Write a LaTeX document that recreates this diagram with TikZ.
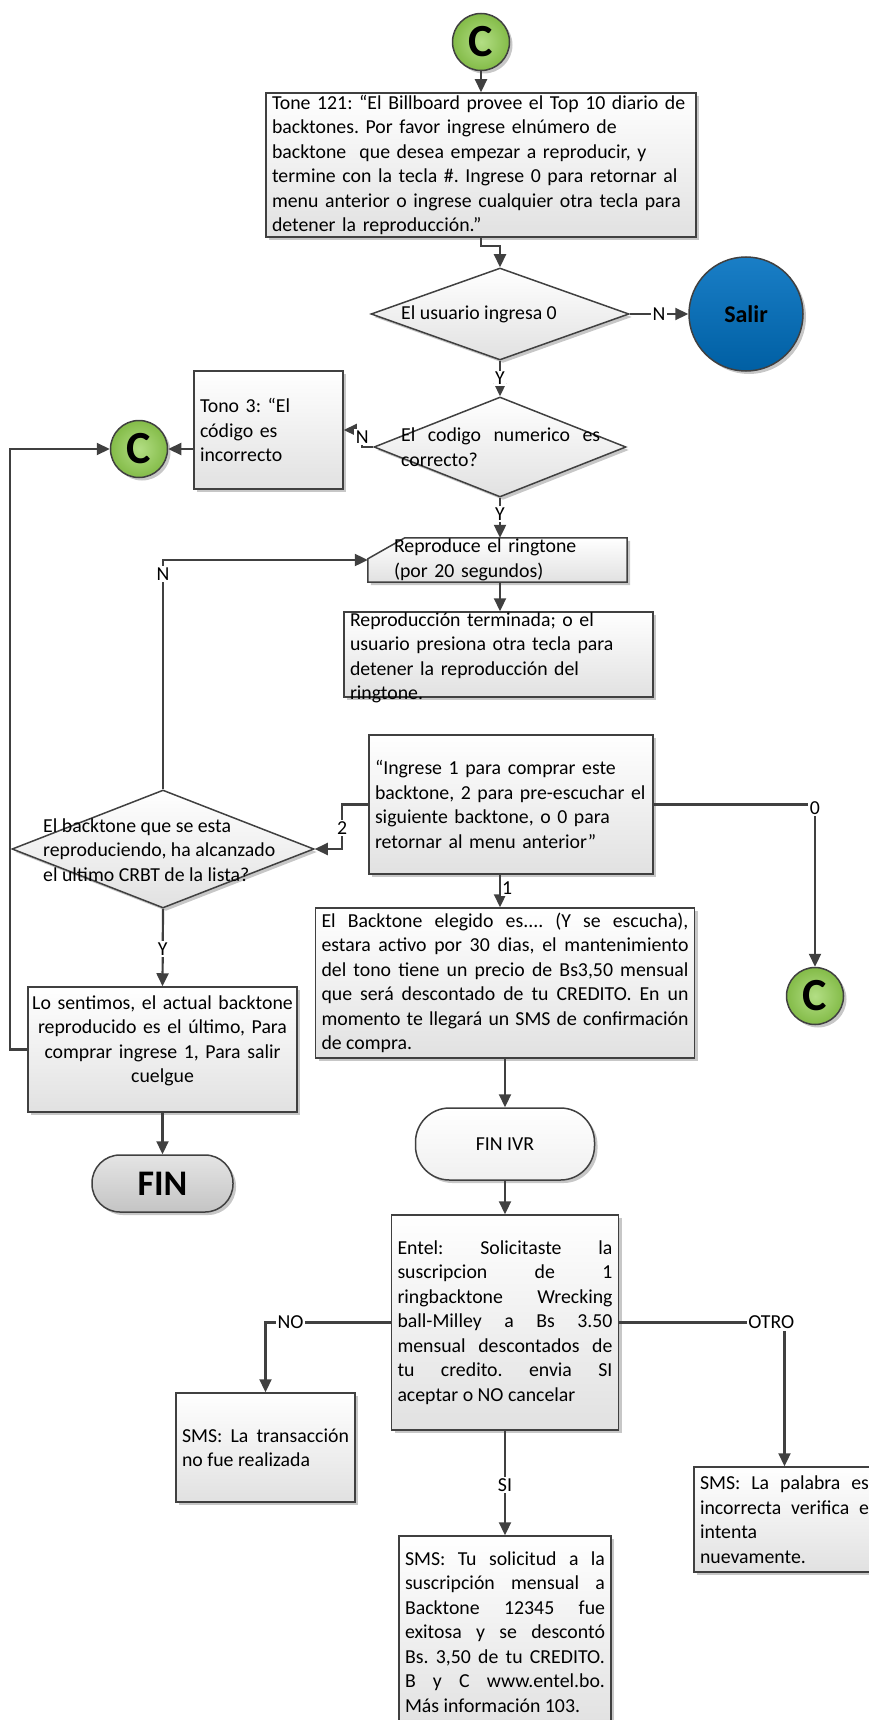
\documentclass[tikz,border=0pt]{standalone}
\usepackage{fontspec}
\setmainfont{Carlito}
\usepackage{tikz}
\usetikzlibrary{
  arrows.meta,
  positioning,
  shapes.geometric,
  shadows,
  backgrounds,
  calc
}
\definecolor{linegray}{RGB}{64,64,64}
\definecolor{boxgray}{RGB}{225,225,225}
\definecolor{okgreen}{RGB}{146,208,80}
\definecolor{exitblue}{RGB}{0,112,192}
\definecolor{fingray}{RGB}{196,196,196}
\newcommand{\bodyfont}{\fontsize{19.8}{24.5}\selectfont}
\frenchspacing

\begin{document}
\begin{tikzpicture}[
  x=1pt, y=-1pt,
  font=\bodyfont,
  shadowed/.style={drop shadow={shadow xshift=3pt,shadow yshift=-3pt,
                   opacity=.22,fill=black}},
  proc/.style={draw=linegray,line width=1.5pt,top color=white,
               bottom color=boxgray,shadowed,inner xsep=6pt,inner ysep=2pt,
               align=left},
  dec/.style={diamond,draw=linegray,line width=1.5pt,top color=white,
              bottom color=boxgray,shadowed,inner sep=0pt},
  dtext/.style={inner sep=0pt,align=left},
  conn/.style={circle,draw=linegray,line width=1.5pt,minimum size=57pt,
               inner sep=0pt,inner color=okgreen!70!white,
               outer color=okgreen!90!black,shadowed,
               font=\fontsize{46}{46}\selectfont\bfseries},
  term/.style={draw=linegray,line width=1.5pt,inner sep=0pt,shadowed},
  link/.style={draw=linegray,line width=2.2pt,
               -{Triangle[length=13pt,width=12pt]}},
  lbl/.style={fill=white,inner sep=1.5pt},
]
\useasboundingbox (0,0) rectangle (869,1720);
\clip (0,0) rectangle (869,1720);

\node[conn] (c1) at (481,42) {C};
\node[proc,text width=418pt,minimum height=144pt] (tone) at (481,165)
  {Tone 121: “El Billboard provee el Top 10 diario de\\
   backtones. Por favor ingrese elnúmero de\\
   backtone~ que desea empezar a reproducir, y\\
   termine con la tecla \#. Ingrese 0 para retornar al\\
   menu anterior o ingrese cualquier otra tecla para\\
   detener la reproducción.”};

\node[dec,minimum width=258pt,minimum height=92pt] (d1) at (500,314) {};
\node[dtext,anchor=west] (d1txt) at (401,314) {El usuario ingresa 0};
\node[circle,draw=linegray,line width=1.5pt,minimum size=114pt,
      top color=exitblue!90!white,bottom color=exitblue!85!black,shadowed,
      font=\fontsize{24}{24}\selectfont\bfseries] (salir) at (746,314) {Salir};

\node[dec,minimum width=252pt,minimum height=100pt] (d2) at (500,447) {};
\node[dtext,anchor=west,text width=199pt,align=justify] (d2txt) at (401,447)
  {El codigo numerico es\linebreak correcto?};
\node[proc,text width=137pt,minimum height=118pt] (tono3) at (268.5,430)
  {Tono 3: “El\\código es\\incorrecto};
\node[conn] (c2) at (139,449) {C};

\node[inner xsep=26pt,inner ysep=0pt,text width=207pt,minimum height=44pt,
      align=left] (repro) at (497.5,560)
  {Reproduce el ringtone\\(por 20 segundos)};
\begin{scope}[on background layer]
\filldraw[draw=linegray,line width=1.5pt,top color=white,bottom color=boxgray,
          shadowed]
  (repro.south west) -- ($(repro.north west)+(0,21)$)
  -- ($(repro.north west)+(37,0)$) -- (repro.north east)
  -- (repro.south east) -- cycle;
\end{scope}

\node[proc,inner ysep=0pt,text width=297pt,text height=14pt,text depth=71pt]
  (term) at (498.5,654.5)
  {Reproducción terminada; o el\\
   usuario presiona otra tecla para\\
   detener la reproducción del\\
   ringtone.};

\node[proc,text width=272pt,minimum height=139pt] (ingr) at (511,804.5)
  {“Ingrese 1 para comprar este\\
   backtone, 2 para pre-escuchar el\\
   siguiente backtone, o 0 para\\
   retornar al menu anterior”};

\node[dec,minimum width=302pt,minimum height=118pt] (d3) at (163,849) {};
\node[dtext,anchor=west] (d3txt) at (43,850)
  {El backtone que se esta\\reproduciendo, ha alcanzado\\el ultimo CRBT de la lista?};
\node[conn] (c3) at (815,996) {C};

\node[proc,align=justify,text width=367pt,minimum height=150pt] (back)
  at (505,983)
  {El Backtone elegido es.... (Y se escucha),\linebreak
   estara activo por 30 dias, el mantenimiento\linebreak
   del tono tiene un precio de Bs3,50 mensual\linebreak
   que será descontado de tu CREDITO. En un\linebreak
   momento te llegará un SMS de confirmación\linebreak
   de compra.};

\node[proc,align=center,inner xsep=4pt,inner ysep=0pt,text width=261pt,
      text height=22pt,text depth=103pt] (sorry) at (162.5,1049.5)
  {Lo sentimos, el actual backtone\\
   reproducido es el último, Para\\
   comprar ingrese 1, Para salir\\
   cuelgue};
\node[term,minimum width=141pt,minimum height=57pt,rounded corners=28pt,
      top color=fingray!45!white,bottom color=fingray,
      font=\fontsize{36}{36}\selectfont\bfseries] (fin) at (162.5,1183.5) {FIN};

\node[term,minimum width=179pt,minimum height=72pt,rounded corners=34pt,
      top color=white,bottom color=black!6] (finivr) at (505,1144) {FIN IVR};

\node[proc,align=justify,text width=215pt,minimum height=215pt] (entel)
  at (505,1322.5)
  {Entel: Solicitaste la\linebreak
   suscripcion de 1\linebreak
   ringbacktone Wrecking\linebreak
   ball-Milley a Bs 3.50\linebreak
   mensual descontados de\linebreak
   tu credito. envia SI\linebreak
   aceptar o NO cancelar};

\node[proc,align=justify,text width=167pt,minimum height=109pt] (notx)
  at (265.5,1447.5)
  {SMS: La transacción\linebreak no fue realizada};
\node[proc,align=justify,text width=169pt,minimum height=105pt] (badw)
  at (784.5,1519.5)
  {SMS: La palabra es\linebreak incorrecta verifica e\linebreak intenta\\
   nuevamente.};
\node[proc,align=justify,text width=200pt,minimum height=192pt] (tusol)
  at (505,1632)
  {SMS: Tu solicitud a la\linebreak
   suscripción mensual a\linebreak
   Backtone 12345 fue\linebreak
   exitosa y se descontó\linebreak
   Bs. 3,50 de tu CREDITO.\linebreak
   B y C www.entel.bo.\linebreak
   Más información 103.};

\draw[link] (c1.south) -- (tone.north);
\draw[link] (tone.south) -- ++(0,8) -| (d1.north);
\draw[link] (d1.east) -- (salir.west) node[lbl,midway]{N};
\draw[link] (d1.south) -- (d2.north) node[lbl,midway]{Y};
\draw[link] (d2.west) -- ++(-11,0) |- (tono3.east) node[lbl,pos=0.3]{N};
\draw[link] (c2 -| tono3.west) -- (c2.east);
\draw[link] (d2.south) -- (d2.south |- repro.north) node[lbl,pos=0.4]{Y};
\draw[link] (repro.south -| d2.south) -- (term.north -| d2.south);
\draw[link] (d3.north) |- (repro.west) node[lbl,pos=0.47]{N};
\draw[link] (ingr.west) -- ++(-26,0) |- (d3.east) node[lbl,pos=0.26]{2};
\draw[link] (ingr.east) -| (c3.north) node[lbl,pos=0.51]{0};
\draw[link] (ingr.south -| d2.south) -- (back.north -| d2.south)
  node[pos=0.42,right,inner sep=1pt,fill=white]{1};
\draw[link] (d3.south) -- (sorry.north) node[lbl,pos=0.52]{Y};
\draw[link] (sorry.west) -- ++(-17,0) |- (c2.west);
\draw[link] (sorry.south) -- (fin.north);
\draw[link] (back.south) -- (finivr.north);
\draw[link] (finivr.south) -- (entel.north);
\draw[link] (entel.west) -| (notx.north) node[lbl,pos=0.4]{NO};
\draw[link] (entel.east) -| (badw.north) node[lbl,pos=0.46]{OTRO};
\draw[link] (entel.south) -- (tusol.north) node[lbl,pos=0.52]{SI};
\end{tikzpicture}
\end{document}
